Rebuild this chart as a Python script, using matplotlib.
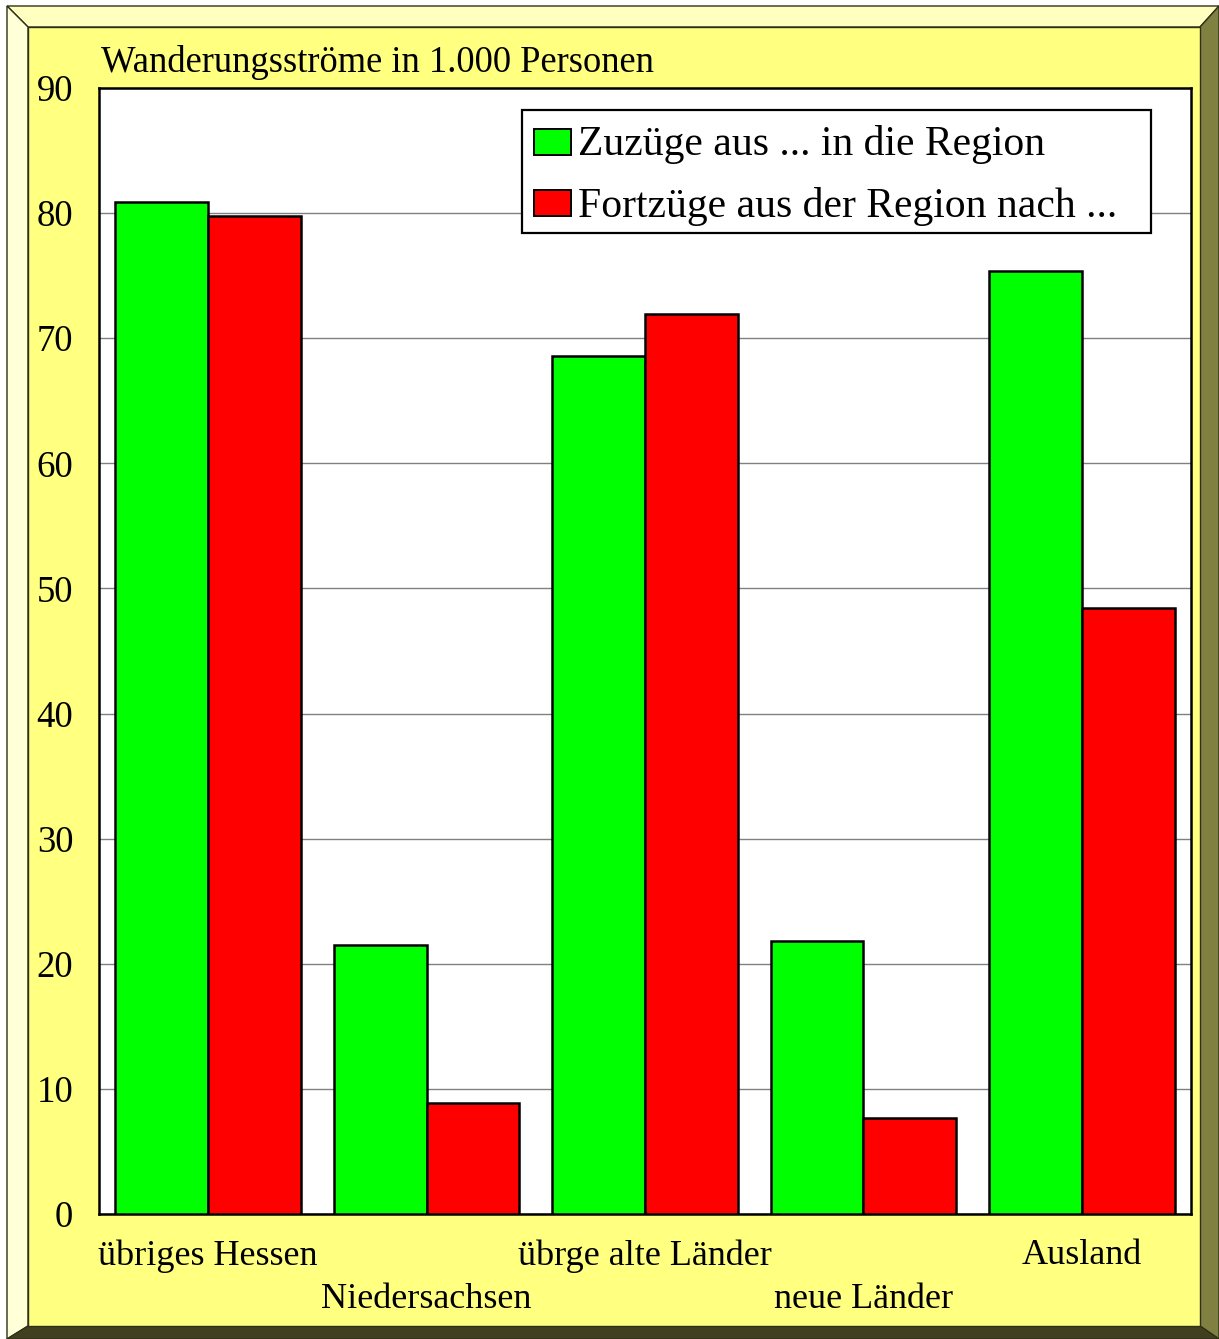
import matplotlib
matplotlib.use("Agg")
import matplotlib.pyplot as plt
import numpy as np
from matplotlib.patches import Polygon, Rectangle

plt.rcParams['font.family'] = ['Liberation Serif', 'DejaVu Serif']

categories = ["übriges Hessen", "Niedersachsen", "übrge alte Länder", "neue Länder", "Ausland"]
zuzuege = [80.9, 21.5, 68.6, 21.8, 75.4]
fortzuege = [79.8, 8.9, 71.9, 7.7, 48.4]
series_labels = ["Zuzüge aus ... in die Region", "Fortzüge aus der Region nach ..."]
series_colors = ["#00FF00", "#FF0000"]
yticks = [0, 10, 20, 30, 40, 50, 60, 70, 80, 90]
title = "Wanderungsströme in 1.000 Personen"

W, H = 1219, 1339
fig = plt.figure(figsize=(W / 100, H / 100), dpi=100)
fig.patch.set_facecolor("white")


def P(x, y):
    return (x / W, 1 - y / H)


def poly(pts, fc, ec="#303018", lw=1.0, z=0):
    fig.add_artist(Polygon([P(*p) for p in pts], closed=True, facecolor=fc,
                           edgecolor=ec, linewidth=lw, transform=fig.transFigure,
                           zorder=z))


# bevelled frame
ox0, oy0, ox1, oy1 = 7, 6, 1219, 1339
ix0, iy0, ix1, iy1 = 28, 27, 1200, 1326
poly([(ox0, oy0), (ox1, oy0), (ix1, iy0), (ix0, iy0)], "#FFFFC0")
poly([(ox0, oy0), (ix0, iy0), (ix0, iy1), (ox0, oy1)], "#FFFFD8")
poly([(ox1, oy0), (ox1, oy1), (ix1, iy1), (ix1, iy0)], "#808040")
poly([(ox0, oy1), (ix0, iy1), (ix1, iy1), (ox1, oy1)], "#404020")
poly([(ix0, iy0), (ix1, iy0), (ix1, iy1), (ix0, iy1)], "#FFFF80", lw=1.0)

# plotting area
ax_l, ax_r, ax_t, ax_b = 99, 1191, 88, 1214
ax = fig.add_axes([ax_l / W, 1 - ax_b / H, (ax_r - ax_l) / W, (ax_b - ax_t) / H])
ax.set_facecolor("white")
ax.set_zorder(2)

x = np.arange(len(categories))
bw = 0.425
ax.bar(x - bw / 2, zuzuege, width=bw, color=series_colors[0], edgecolor="black",
       linewidth=1.8, zorder=3)
ax.bar(x + bw / 2, fortzuege, width=bw, color=series_colors[1], edgecolor="black",
       linewidth=1.8, zorder=3)

ax.set_xlim(-0.5, len(categories) - 0.5)
ax.set_ylim(0, 90)
ax.set_yticks(yticks)
ax.set_yticklabels([str(v) for v in yticks], fontsize=26.5)
ax.tick_params(axis="y", length=0, pad=18.5)
ax.set_xticks([])
ax.yaxis.grid(True, color="#808080", linewidth=1.0, zorder=0)
ax.set_axisbelow(True)
for s in ax.spines.values():
    s.set_linewidth(1.8)
    s.set_color("black")

# alternating category labels
for i, c in enumerate(categories):
    off = 42 if i % 2 == 0 else 85
    ax.annotate(c, xy=(x[i], 0), xycoords="data", xytext=(0, -off * 0.72),
                textcoords="offset points", ha="center", va="center",
                fontsize=26, annotation_clip=False)

fig.text(101 / W, 1 - 62 / H, title, ha="left", va="center", fontsize=26.3)

# legend box
lx0, ly0, lx1, ly1 = 522, 110, 1151, 233
fig.add_artist(Rectangle(P(lx0, ly1), (lx1 - lx0) / W, (ly1 - ly0) / H,
                         facecolor="white", edgecolor="black", linewidth=1.6,
                         transform=fig.transFigure, zorder=5))
for k, (lab, col) in enumerate(zip(series_labels, series_colors)):
    yc = 142 + 61 * k
    fig.add_artist(Rectangle(P(534, yc + 13), 37 / W, 26 / H, facecolor=col,
                             edgecolor="black", linewidth=1.4,
                             transform=fig.transFigure, zorder=6))
    fig.text(578 / W, 1 - (yc + 3) / H, lab, ha="left", va="center", fontsize=30,
             zorder=7)

fig.savefig("out.png", dpi=100, facecolor=fig.get_facecolor())
